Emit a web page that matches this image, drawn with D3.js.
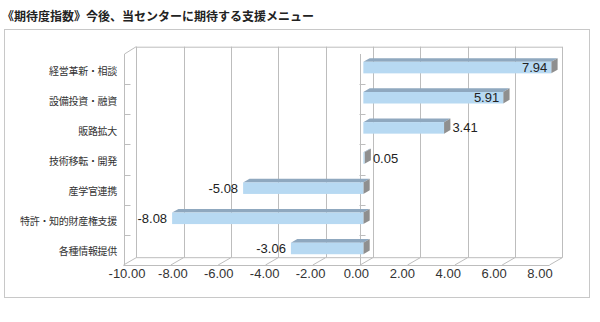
<!DOCTYPE html>
<html><head><meta charset="utf-8">
<script src="https://cdn.jsdelivr.net/npm/d3@7"></script>
<style>
html,body{margin:0;padding:0;background:#fff;}
svg{display:block;}
</style></head>
<body>
<script>
const title = "《期待度指数》今後、当センターに期待する支援メニュー";
const categories = ["経営革新・相談","設備投資・融資","販路拡大","技術移転・開発","産学官連携","特許・知的財産権支援","各種情報提供"];
const values = [7.94, 5.91, 3.41, 0.05, -5.08, -8.08, -3.06];
const tickValues = [-10,-8,-6,-4,-2,0,2,4,6,8];

const W = 600, H = 322;
const fmt = v => d3.format(".2f")(v).replace("\u2212","-");
const svg = d3.select("body").append("svg").attr("width", W).attr("height", H);

// frame
svg.append("rect").attr("x",4.5).attr("y",29.5).attr("width",585).attr("height",268)
  .attr("fill","none").attr("stroke","#c8c8c8").attr("stroke-width",1);

svg.append("text").text(title).attr("x",2).attr("y",15)
  .attr("dominant-baseline","central")
  .attr("font-family","'Noto Sans CJK JP'").attr("font-weight","bold")
  .attr("font-size","12px").attr("fill","#222");

// geometry of 3D projection
const DX = 12.7, DY = -7.3;           // full depth offset
const x = d3.scaleLinear().domain([-10, 8]).range([123.5, 549.5]);
const y = d3.scaleBand().domain(categories).range([54, 265]);
const labelX = d3.scaleLinear().domain([-10, 8]).range([127, 540]);
const gridColor = "#bdbdbd";
const g = svg.append("g").attr("stroke", gridColor).attr("stroke-width",1).attr("fill","none");
const yTop = y.range()[0], yBot = y.range()[1];

// back wall gridlines
tickValues.forEach(v=>{
  const bx = Math.round(x(v)+DX)+0.5;
  g.append("line").attr("x1",bx).attr("x2",bx).attr("y1",yTop+DY).attr("y2",yBot+DY);
  // floor diagonals
  g.append("line").attr("x1",x(v)).attr("y1",yBot).attr("x2",x(v)+DX).attr("y2",yBot+DY);
});
// back wall top and bottom
g.append("line").attr("x1",x(-10)+DX).attr("x2",x(8)+DX).attr("y1",yTop+DY+0.5).attr("y2",yTop+DY+0.5);
g.append("line").attr("x1",x(-10)+DX).attr("x2",x(8)+DX).attr("y1",yBot+DY).attr("y2",yBot+DY);
// floor front edge
g.append("line").attr("x1",x(-10)).attr("x2",x(8)).attr("y1",yBot+0.5).attr("y2",yBot+0.5);
// left wall
const lx = Math.round(x(-10))+0.5;
g.append("line").attr("x1",lx).attr("x2",lx).attr("y1",yTop).attr("y2",yBot);
g.append("line").attr("x1",lx).attr("y1",yTop).attr("x2",x(-10)+DX).attr("y2",yTop+DY);
// category axis at 0
const zx = Math.round(x(0))+0.5;
g.append("line").attr("x1",zx).attr("x2",zx).attr("y1",yTop).attr("y2",yBot);
// ticks at band boundaries
categories.slice(1).forEach(c=>{
  const ty = Math.round(y(c))+0.5;
  g.append("line").attr("x1",lx).attr("x2",lx+6).attr("y1",ty).attr("y2",ty);
  g.append("line").attr("x1",zx-1).attr("x2",zx+5).attr("y1",ty).attr("y2",ty);
});

// category labels
svg.append("g").selectAll("text").data(categories).join("text")
  .attr("x",117).attr("y",d=>y(d)+y.bandwidth()/2+1)
  .attr("text-anchor","end").attr("dominant-baseline","central")
  .attr("font-family","'Noto Sans CJK JP'").attr("font-size","10px").attr("fill","#333")
  .attr("letter-spacing","-0.3px")
  .text(d=>d);

// x tick labels
svg.append("g").selectAll("text").data(tickValues).join("text")
  .attr("x",d=>labelX(d)).attr("y",273)
  .attr("text-anchor","middle").attr("dominant-baseline","central")
  .attr("font-family","'Liberation Sans', Arial, sans-serif").attr("font-size","13px").attr("fill","#333")
  .text(d=>fmt(d));

// bars
const bh = 11.5;
const d0x = DX*0.25, d0y = DY*0.2;
const bdx = DX*0.5, bdy = DY*0.5;
const bars = svg.append("g");
categories.forEach((c,i)=>{
  const v = values[i];
  const x1 = x(Math.min(0,v))+d0x, x2 = x(Math.max(0,v))+d0x;
  const cy = y(c)+y.bandwidth()/2 + d0y;
  const yt = cy-bh/2, yb = cy+bh/2;
  // top face
  bars.append("path").attr("d",`M${x1},${yt}L${x2},${yt}L${x2+bdx},${yt+bdy}L${x1+bdx},${yt+bdy}Z`)
    .attr("fill","#8fa8bf");
  // side face
  bars.append("path").attr("d",`M${x2},${yt}L${x2+bdx},${yt+bdy}L${x2+bdx},${yb+bdy}L${x2},${yb}Z`)
    .attr("fill","#8f8f8f");
  // front face
  bars.append("rect").attr("x",x1).attr("y",yt).attr("width",Math.max(x2-x1,1)).attr("height",bh)
    .attr("fill","#b7d9f2");
  // value label
  let lxp, anchor;
  if (v > 5) { lxp = x2-4; anchor = "end"; }
  else if (v >= 0) { lxp = x2+bdx+2; anchor = "start"; }
  else { lxp = x1-5; anchor = "end"; }
  bars.append("text").attr("x",lxp).attr("y",cy)
    .attr("text-anchor",anchor).attr("dominant-baseline","central")
    .attr("font-family","'Liberation Sans', Arial, sans-serif").attr("font-size","13px").attr("fill","#222")
    .text(fmt(v));
});
</script>
</body></html>
